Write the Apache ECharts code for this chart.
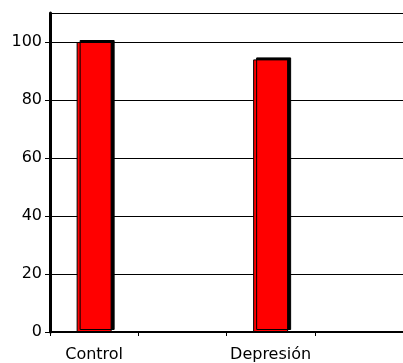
<!DOCTYPE html>
<html>
<head>
<meta charset="utf-8">
<script src="https://cdn.jsdelivr.net/npm/echarts@6/dist/echarts.min.js"></script>
<style>html,body{margin:0;padding:0;background:#fff}#c{width:403px;height:363px}</style>
</head>
<body>
<div id="c"></div>
<script>
var categories = ['Control', '', 'Depresión', ''];
var values = [100, null, 94, null];
var yTicks = { min: 0, max: 110, interval: 20 };

var chart = echarts.init(document.getElementById('c'), null, { renderer: 'canvas' });
chart.setOption({
  animation: false,
  backgroundColor: '#fff',
  grid: { left: 50, right: 0, top: 13, bottom: 31, containLabel: false },
  xAxis: {
    type: 'category',
    data: categories,
    axisLine: { show: true, lineStyle: { color: '#000', width: 2 } },
    axisTick: { show: true, interval: 0, length: 4, lineStyle: { color: '#000', width: 1 } },
    axisLabel: { interval: 0, color: '#000', fontFamily: 'DejaVu Sans', fontSize: 16, margin: 15 },
    splitLine: { show: false }
  },
  yAxis: {
    type: 'value',
    min: yTicks.min, max: yTicks.max, interval: yTicks.interval,
    axisLine: { show: true, lineStyle: { color: '#000', width: 3 } },
    axisTick: { show: true, length: 5, lineStyle: { color: '#000', width: 1 } },
    axisLabel: { color: '#000', fontFamily: 'DejaVu Sans', fontSize: 16, margin: 8, showMaxLabel: false },
    splitLine: { show: true, lineStyle: { color: '#000', width: 1 } }
  },
  series: [{
    type: 'bar',
    data: values,
    barWidth: 35,
    itemStyle: {
      color: '#ff0000',
      borderColor: '#000',
      borderWidth: 1,
      shadowColor: '#000',
      shadowBlur: 0,
      shadowOffsetX: 3,
      shadowOffsetY: -2
    }
  }]
});
</script>
</body>
</html>
